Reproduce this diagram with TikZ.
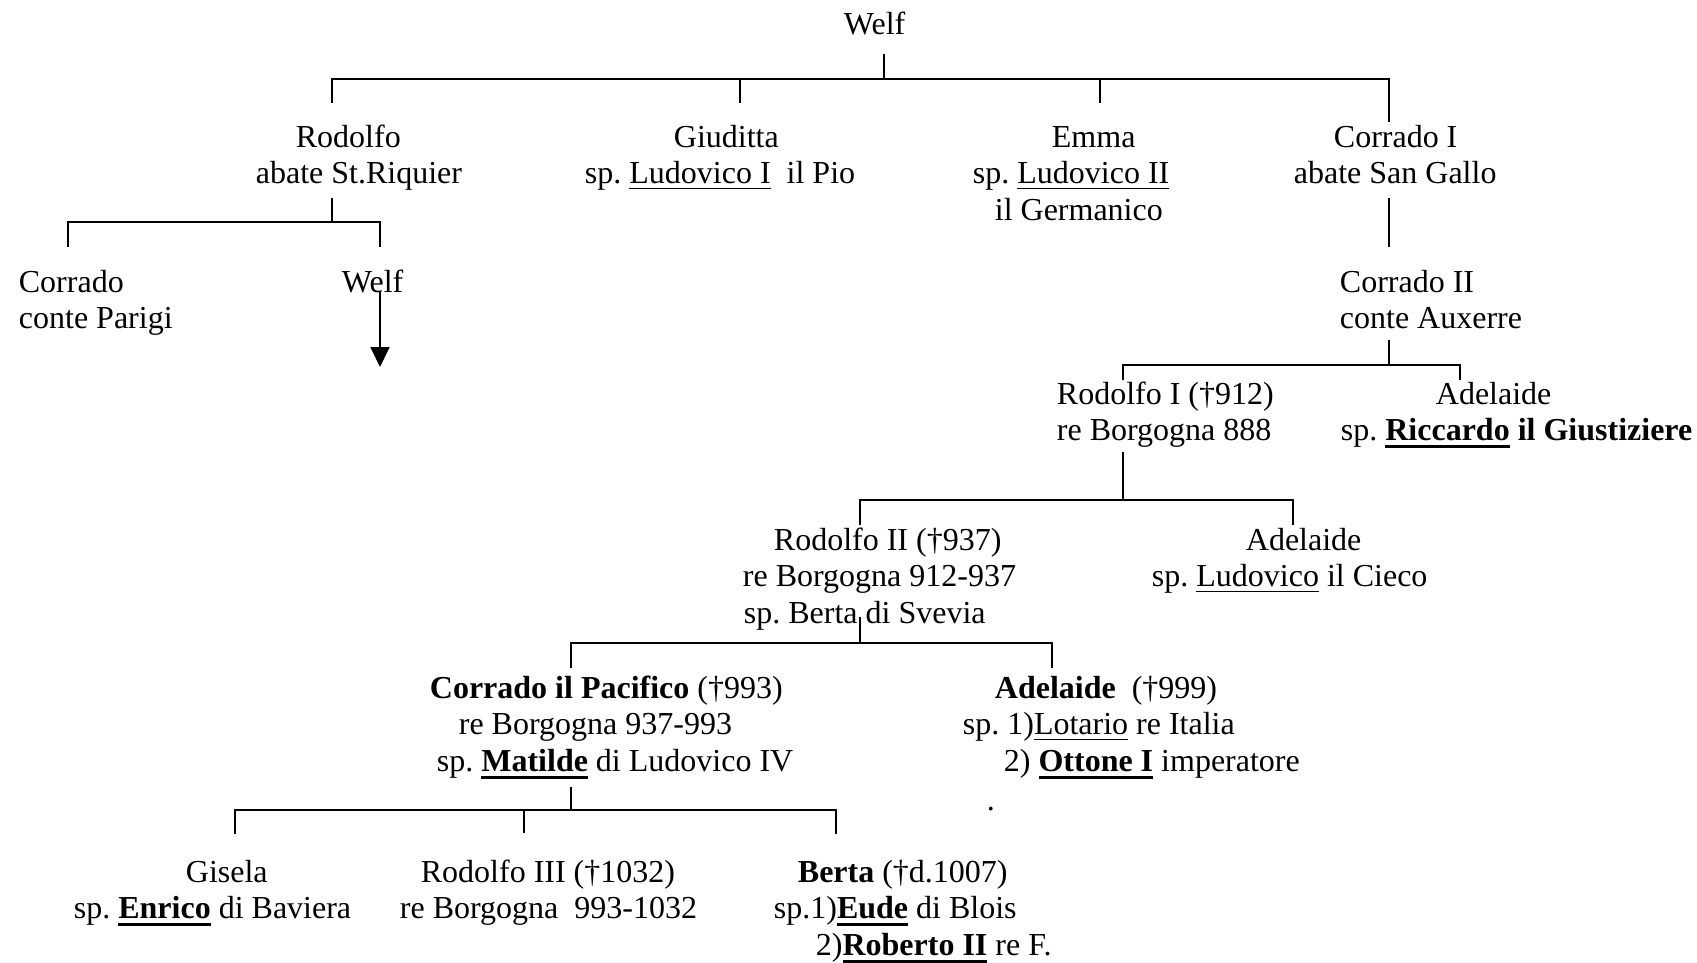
\documentclass[tikz,border=0pt]{standalone}
\usepackage{fontspec}
\setmainfont{Liberation Serif}
\usetikzlibrary{arrows.meta}
\frenchspacing
\newcommand\Lin[2]{\hbox{\kern#1pt #2}}
\newcommand\myul[1]{\setbox0\hbox{#1}\rlap{\rule[-5.5pt]{\wd0}{1.6pt}}\box0\relax}
\newcommand\bul[1]{\setbox0\hbox{\textbf{#1}}\rlap{\rule[-7.5pt]{\wd0}{3pt}}\box0\relax}
\begin{document}
\begin{tikzpicture}[x=1pt,y=-1pt,line width=1.8pt,
  person/.style={anchor=base west,inner sep=0pt,font=\fontsize{32}{36.7}\selectfont\frenchspacing},
  tip/.style={-{Triangle[length=20pt,width=19pt]}}]
\useasboundingbox (0,0) rectangle (1697,963);
% people
\node[person] (welf) at (843,35) {Welf};
\node[person] (rod) at (255,147) {\vtop{\Lin{40}{Rodolfo}\Lin{0}{abate St.Riquier}}};
\node[person] (giu) at (584,147) {\vtop{\Lin{89}{Giuditta}\Lin{0}{sp. \myul{Ludovico I}\ \ il Pio}}};
\node[person] (emma) at (972,147) {\vtop{\Lin{79}{Emma}\Lin{0}{sp. \myul{Ludovico II}}\Lin{22}{il Germanico}}};
\node[person] (cor1) at (1293,147) {\vtop{\Lin{40}{Corrado I}\Lin{0}{abate San Gallo}}};
\node[person] (corP) at (18,292) {\vtop{\Lin{0}{Corrado}\Lin{0}{conte Parigi}}};
\node[person] (welf2) at (341,292) {Welf};
\node[person] (cor2) at (1339,292) {\vtop{\Lin{0}{Corrado II}\Lin{0}{conte Auxerre}}};
\node[person] (rod1) at (1056,404) {\vtop{\Lin{0}{Rodolfo I (†912)}\Lin{0}{re Borgogna 888}}};
\node[person] (ade1) at (1340,404) {\vtop{\Lin{95}{Adelaide}\Lin{0}{sp. \bul{Riccardo} \textbf{il Giustiziere}}}};
\node[person] (rod2) at (742,550) {\vtop{\Lin{31}{Rodolfo II (†937)}\Lin{0}{re Borgogna 912-937}\Lin{1}{sp. Berta di Svevia}}};
\node[person] (ade2) at (1151,550) {\vtop{\Lin{94}{Adelaide}\Lin{0}{sp. \myul{Ludovico} il Cieco}}};
\node[person] (corpac) at (429,698) {\vtop{\Lin{0}{\textbf{Corrado il Pacifico} (†993)}\Lin{29}{re Borgogna 937-993}\Lin{7}{sp. \bul{Matilde} di Ludovico IV}}};
\node[person] (ade3) at (962,698) {\vtop{\Lin{32}{\textbf{Adelaide}\ \ (†999)}\Lin{0}{sp. 1)\myul{Lotario} re Italia}\Lin{41}{2) \bul{Ottone I} imperatore}}};
\node[person] (dot) at (986,810) {.};
\node[person] (gis) at (73,882) {\vtop{\Lin{112}{Gisela}\Lin{0}{sp. \bul{Enrico} di Baviera}}};
\node[person] (rod3) at (399,882) {\vtop{\Lin{21}{Rodolfo III (†1032)}\Lin{0}{re Borgogna\ \ 993-1032}}};
\node[person] (berta) at (773,882) {\vtop{\Lin{24}{\textbf{Berta} (†d.1007)}\Lin{0}{sp.1)\bul{Eude} di Blois}\Lin{42}{2)\bul{Roberto II} re F.}}};
% connector points
\coordinate (w-out) at (884,54);   \coordinate (w-bar) at (884,79);
\coordinate (b1l) at (332,79);     \coordinate (b1r) at (1389,79);
\coordinate (rod-in) at (332,103); \coordinate (giu-top) at (740,79); \coordinate (giu-in) at (740,103);
\coordinate (emma-top) at (1100,79); \coordinate (emma-in) at (1100,103);
\coordinate (cor1-in) at (1389,122);
\coordinate (rod-out) at (332,198); \coordinate (rod-bar) at (332,222);
\coordinate (b2l) at (68,222); \coordinate (b2r) at (380,222);
\coordinate (corP-in) at (68,247); \coordinate (welf2-in) at (380,247);
\coordinate (welf2-out) at (380,291); \coordinate (welf2-end) at (380,367);
\coordinate (cor1-out) at (1389,198); \coordinate (cor2-in) at (1389,247);
\coordinate (cor2-out) at (1389,340); \coordinate (cor2-bar) at (1389,365);
\coordinate (b3l) at (1123,365); \coordinate (b3r) at (1460,365);
\coordinate (rod1-in) at (1123,380); \coordinate (ade1-in) at (1460,380);
\coordinate (rod1-out) at (1123,452); \coordinate (rod1-bar) at (1123,500);
\coordinate (b4l) at (860,500); \coordinate (b4r) at (1293,500);
\coordinate (rod2-in) at (860,525); \coordinate (ade2-in) at (1293,525);
\coordinate (rod2-out) at (860,617); \coordinate (rod2-bar) at (860,643);
\coordinate (b5l) at (571,643); \coordinate (b5r) at (1052,643);
\coordinate (corpac-in) at (571,668); \coordinate (ade3-in) at (1052,668);
\coordinate (corpac-out) at (571,787); \coordinate (corpac-bar) at (571,810);
\coordinate (b6l) at (235,810); \coordinate (b6r) at (836,810);
\coordinate (gis-in) at (235,834); \coordinate (berta-in) at (836,834);
\coordinate (rod3-top) at (524,810); \coordinate (rod3-in) at (524,833);
% connectors
\draw (w-out) -- (w-bar);
\draw (rod-in) -- (b1l) -- (b1r) -- (cor1-in);
\draw (giu-top) -- (giu-in);
\draw (emma-top) -- (emma-in);
\draw (rod-out) -- (rod-bar);
\draw (corP-in) -- (b2l) -- (b2r) -- (welf2-in);
\draw[tip] (welf2-out) -- (welf2-end);
\draw (cor1-out) -- (cor2-in);
\draw (cor2-out) -- (cor2-bar);
\draw (rod1-in) -- (b3l) -- (b3r) -- (ade1-in);
\draw (rod1-out) -- (rod1-bar);
\draw (rod2-in) -- (b4l) -- (b4r) -- (ade2-in);
\draw (rod2-out) -- (rod2-bar);
\draw (corpac-in) -- (b5l) -- (b5r) -- (ade3-in);
\draw (corpac-out) -- (corpac-bar);
\draw (gis-in) -- (b6l) -- (b6r) -- (berta-in);
\draw (rod3-top) -- (rod3-in);
\end{tikzpicture}
\end{document}
